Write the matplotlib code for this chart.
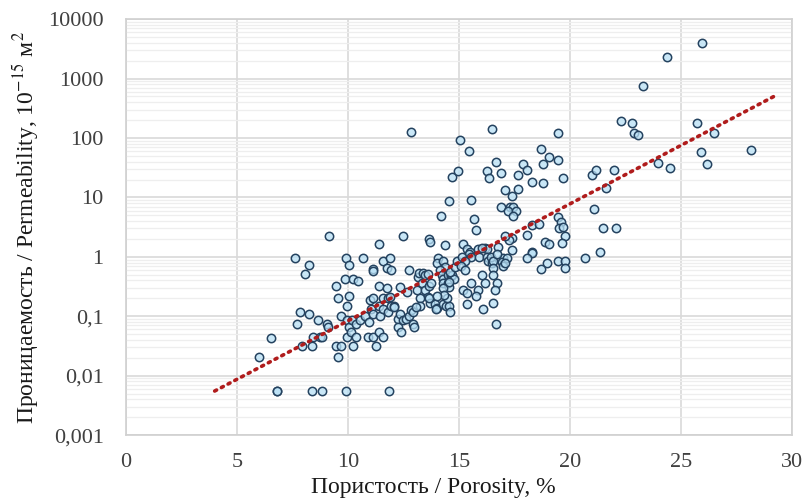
import numpy as np
import matplotlib
matplotlib.use("Agg")
import matplotlib.pyplot as plt
from matplotlib.ticker import FixedLocator, LogLocator, FuncFormatter, NullFormatter

# porosity (%) and permeability (10^-15 m^2)
porosity = [
    6.0, 6.55, 6.8, 6.8,
    7.6, 7.7, 7.84, 7.93,
    8.06, 8.24, 8.24, 8.38, 8.38, 8.42, 8.65, 8.74, 8.83, 8.85,
    9.05, 9.1, 9.14, 9.46, 9.46, 9.55, 9.55, 9.68, 9.68, 9.86, 9.9, 9.9, 9.95, 9.95, 9.95,
    10.05, 10.05, 10.05, 10.14, 10.18, 10.23, 10.23, 10.36, 10.36, 10.45, 10.54, 10.68,
    10.77, 10.9, 10.95, 10.99,
    11.04, 11.13, 11.13, 11.13, 11.13, 11.13, 11.26, 11.4, 11.4, 11.4, 11.4, 11.44,
    11.58, 11.58, 11.58, 11.58, 11.76, 11.76, 11.8, 11.8, 11.85, 11.9, 11.9, 11.94, 11.94,
    12.07, 12.1, 12.25, 12.25, 12.34, 12.34, 12.39, 12.48, 12.48, 12.6, 12.66, 12.75, 12.75,
    12.84, 12.84, 12.93, 12.93, 12.97,
    13.1, 13.15, 13.2, 13.38, 13.5, 13.6, 13.33, 13.47, 13.65, 13.74, 13.6, 13.7, 13.92,
    14.0, 14.28, 14.41, 14.55, 14.6, 13.24, 13.65, 13.24, 13.06, 13.65, 13.7,
    14.05, 14.0, 14.28, 14.37, 14.14, 14.23, 14.28, 14.28, 14.5, 14.55, 14.5, 14.64, 14.7,
    14.77, 14.6, 14.82, 14.91, 14.55, 14.28, 14.46, 14.32, 14.0, 13.96, 14.37, 14.19, 14.55,
    14.68, 14.95,
    15.05, 15.45, 15.54, 15.68, 15.77, 15.18, 15.36, 15.5, 15.86, 15.45, 15.54, 15.14,
    15.27, 15.9, 15.18, 15.36, 15.36, 15.54, 15.86, 15.77, 15.1, 15.3,
    16.49, 16.67, 16.26, 16.35, 16.9, 16.2, 16.26, 16.76, 16.26, 16.3, 16.49, 16.44, 16.53,
    16.98, 16.94, 16.98, 16.53, 16.53, 16.71, 16.62, 16.53, 16.67, 16.04, 16.17, 16.08,
    16.9, 16.04, 16.7,
    17.07, 17.66, 17.39, 17.3, 17.43, 17.2, 17.6, 17.43, 17.66, 17.88, 18.06, 17.39, 17.25,
    17.07, 17.39, 17.16, 17.07,
    18.06, 18.29, 18.6, 18.29, 18.29, 18.06, 18.96, 18.69, 18.87, 19.05, 18.29, 18.78,
    18.78, 18.69, 19.05,
    19.46, 19.46, 19.68, 19.46, 19.6, 19.5, 19.68, 19.77, 19.64, 19.46, 19.77, 19.77,
    20.68, 20.99, 21.17, 21.08, 21.35, 21.49, 21.62, 21.98, 22.07, 22.3, 22.79, 22.88,
    23.06, 23.29, 23.96, 24.37, 24.5, 25.72, 25.9, 25.95, 26.2, 26.49, 28.15,
]
permeability = [
    0.021, 0.043, 0.0055, 0.0055,
    0.95, 0.075, 0.117, 0.032,
    0.52, 0.72, 0.107, 0.032, 0.0055, 0.045, 0.085, 0.045, 0.044, 0.0055,
    0.073, 0.065, 2.2, 0.32, 0.032, 0.2, 0.021, 0.1, 0.032, 0.43, 0.95, 0.0055, 0.148, 0.085, 0.045,
    0.74, 0.22, 0.065, 0.054, 0.085, 0.43, 0.032, 0.075, 0.045, 0.39, 0.085, 0.95,
    0.1, 0.045, 0.08, 0.19,
    0.13, 0.62, 0.58, 0.2, 0.107, 0.045, 0.032, 1.66, 0.32, 0.15, 0.054, 0.1,
    0.84, 0.2, 0.13, 0.045, 0.65, 0.3, 0.2, 0.12, 0.0055, 0.95, 0.21, 0.6, 0.15,
    0.15, 0.145, 0.09, 0.065, 0.31, 0.107, 0.054, 2.2, 0.085, 0.09, 0.26, 0.59, 0.1,
    126, 0.125, 0.12, 0.075, 0.065,
    0.28, 0.46, 0.53, 0.53, 0.49, 0.52, 0.36, 0.28, 0.32, 0.36, 0.21, 0.17, 0.16,
    0.135, 0.16, 0.15, 0.15, 0.12, 0.2, 0.2, 0.15, 0.145, 2.0, 1.8,
    0.97, 0.8, 0.84, 0.68, 0.6, 0.5, 0.43, 0.36, 0.36, 0.31, 0.5, 0.47, 0.49,
    0.43, 0.55, 0.68, 0.84, 0.38, 0.3, 0.2, 0.23, 0.22, 0.13, 1.6, 4.8, 8.6,
    22, 28,
    93, 61, 9.2, 4.3, 2.8, 1.66, 1.38, 1.2, 1.35, 1.1, 1.0, 1.0,
    0.84, 1.0, 0.28, 0.25, 0.16, 0.36, 0.28, 0.22, 0.7, 0.6,
    140, 40, 28, 21, 26, 1.42, 1.35, 1.48, 1.0, 0.84, 0.8, 1.0, 0.84,
    0.94, 0.83, 0.7, 0.66, 0.49, 0.36, 0.28, 0.17, 0.075, 0.49, 0.36, 0.13,
    7.0, 1.42, 1.1,
    13.2, 13.7, 10.4, 6.8, 7.0, 6.0, 6.0, 4.8, 24, 36, 29, 2.1, 1.9,
    2.2, 1.28, 0.95, 0.8,
    2.3, 3.4, 3.6, 1.2, 1.14, 0.95, 0.8, 0.63, 1.8, 1.66, 18, 17.6,
    36, 64, 47,
    123, 42, 21, 4.6, 3.8, 3.0, 3.2, 2.2, 1.7, 0.85, 0.85, 0.66,
    0.95, 24, 29, 6.3, 1.2, 3.0, 14.5, 29, 3.0, 195, 180, 123,
    114, 760, 38, 2300, 31.5, 180, 59, 3970, 36, 123, 63,
]

# exponential trend y = a * exp(b * x), as drawn on the picture
trend_a = 0.0009
trend_b = 0.453
trend_x_from = 4.0
trend_x_to = 29.2

x_ticks = [0, 5, 10, 15, 20, 25, 30]
y_ticks = [0.001, 0.01, 0.1, 1, 10, 100, 1000, 10000]
y_tick_labels = ["0,001", "0,01", "0,1", "1", "10", "100", "1000", "10000"]


def y_fmt(v, pos):
    # pick the label of the nearest decade
    i = int(np.argmin([abs(np.log10(t) - np.log10(v)) for t in y_ticks]))
    return y_tick_labels[i]


plt.rcParams["font.family"] = ["Liberation Serif", "DejaVu Serif"]
plt.rcParams["mathtext.fontset"] = "stix"

fig = plt.figure(figsize=(8.07, 5.03), dpi=100)
ax = fig.add_axes([0.156, 0.135, 0.825, 0.827])

ax.scatter(porosity, permeability, s=36, facecolor=(0.72, 0.88, 0.96, 0.75),
           edgecolor="#24425f", linewidth=1.1, zorder=3)

tx = np.linspace(trend_x_from, trend_x_to, 200)
ax.plot(tx, trend_a * np.exp(trend_b * tx), color="#b01c1c", linewidth=2.6,
        linestyle=(0, (0.6, 1.5)), dash_capstyle="round", zorder=4)

ax.set_yscale("log")
ax.set_xlim(0, 30)
ax.set_ylim(0.001, 10000)
ax.xaxis.set_major_locator(FixedLocator(x_ticks))
ax.yaxis.set_major_locator(FixedLocator(y_ticks))
ax.yaxis.set_major_formatter(FuncFormatter(y_fmt))
ax.yaxis.set_minor_locator(LogLocator(base=10, subs=np.arange(2, 10)))
ax.yaxis.set_minor_formatter(NullFormatter())

ax.grid(True, which="major", color="#d9d9d9", linewidth=1.2, zorder=0)
ax.grid(True, which="minor", axis="y", color="#eeeeee", linewidth=0.9, zorder=0)
ax.set_axisbelow(True)
ax.tick_params(which="both", length=0, labelsize=16, colors="#404040")
ax.tick_params(axis="x", pad=13)
ax.tick_params(axis="y", pad=16)
for sp in ax.spines.values():
    sp.set_color("#d0d0d0")
    sp.set_linewidth(1.2)

ax.set_xlabel("Пористость / Porosity, %", fontsize=17, color="#1a1a1a")
ax.xaxis.set_label_coords(0.462, -0.1)
ax.set_ylabel("Проницаемость / Permeability, 10$^{-15}$ м$^2$", fontsize=17,
              color="#1a1a1a")
ax.yaxis.set_label_coords(-0.128, 0.5)

fig.savefig("out.png", dpi=100)
